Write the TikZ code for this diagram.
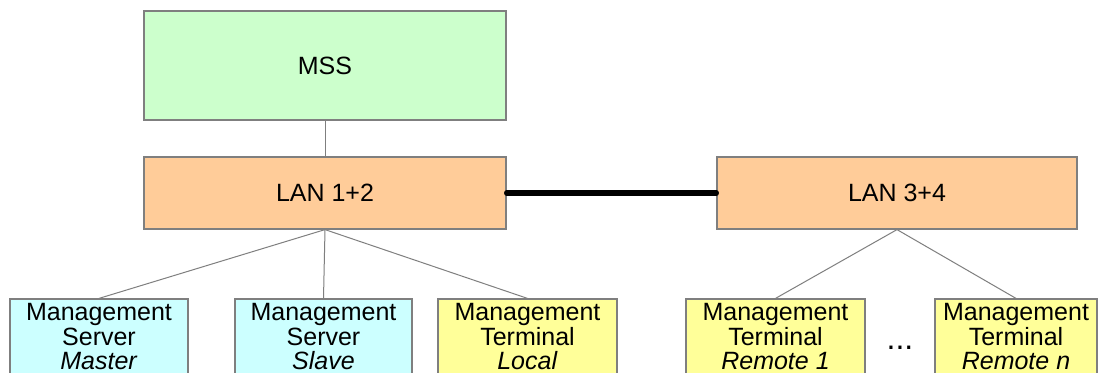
\documentclass[tikz,border=0pt]{standalone}
\usepackage{fontspec}
\setmainfont{Liberation Sans}
\usepackage{xcolor}
\usetikzlibrary{positioning}
\definecolor{mssgreen}{HTML}{CCFFCC}
\definecolor{lanorange}{HTML}{FFCC99}
\definecolor{srvcyan}{HTML}{CCFFFF}
\definecolor{termyellow}{HTML}{FFFF99}
\definecolor{edgegray}{HTML}{7F7F7F}

\begin{document}
\begin{tikzpicture}[x=0.5pt, y=-0.5pt,
    box/.style={rectangle, draw=edgegray, line width=0.6pt, inner sep=0pt, align=center,
        font=\fontsize{12.5}{12.25}\selectfont},
    unit/.style={box, minimum height=38pt},
    link/.style={draw=edgegray, line width=0.5pt},
    trunk/.style={line width=2.6pt, line cap=round}
    ]
    \clip (0,0) rectangle (1108,373);
    \fill[white] (0,0) rectangle (1108,373);

    % obere Ebene
    \node[box, fill=mssgreen, minimum width=181pt, minimum height=54.5pt] (mss) at (325,65.5) {MSS};
    \node[box, fill=lanorange, minimum width=181pt, minimum height=36pt] (lan12) at (325,193) {LAN 1+2};
    \node[box, fill=lanorange, minimum width=180pt, minimum height=36pt] (lan34) at (897,193) {LAN 3+4};

    % Server und Terminals
    \node[unit, fill=srvcyan, minimum width=89pt] (master) at (99,337) {Management\\Server\\\textit{Master}};
    \node[unit, fill=srvcyan, minimum width=88.5pt] (slave) at (323.5,337) {Management\\Server\\\textit{Slave}};
    \node[unit, fill=termyellow, minimum width=89.5pt] (local) at (527.5,337) {Management\\Terminal\\\textit{Local}};
    \node[unit, fill=termyellow, minimum width=89.5pt] (remote1) at (775.5,337) {Management\\Terminal\\\textit{Remote 1}};
    \node[unit, fill=termyellow, minimum width=81pt] (remoten) at (1016,337) {Management\\Terminal\\\textit{Remote n}};
    \node[font=\fontsize{16}{16}\selectfont] (dots) at (900,348) {...};

    \draw[link] (mss) -- (lan12);
    \draw[trunk] (lan12.east) -- (lan34.west);
    \draw[link] (lan12.south) -- (master.north);
    \draw[link] (lan12.south) -- (slave.north);
    \draw[link] (lan12.south) -- (local.north);
    \draw[link] (lan34.south) -- (remote1.north);
    \draw[link] (lan34.south) -- (remoten.north);
\end{tikzpicture}
\end{document}
